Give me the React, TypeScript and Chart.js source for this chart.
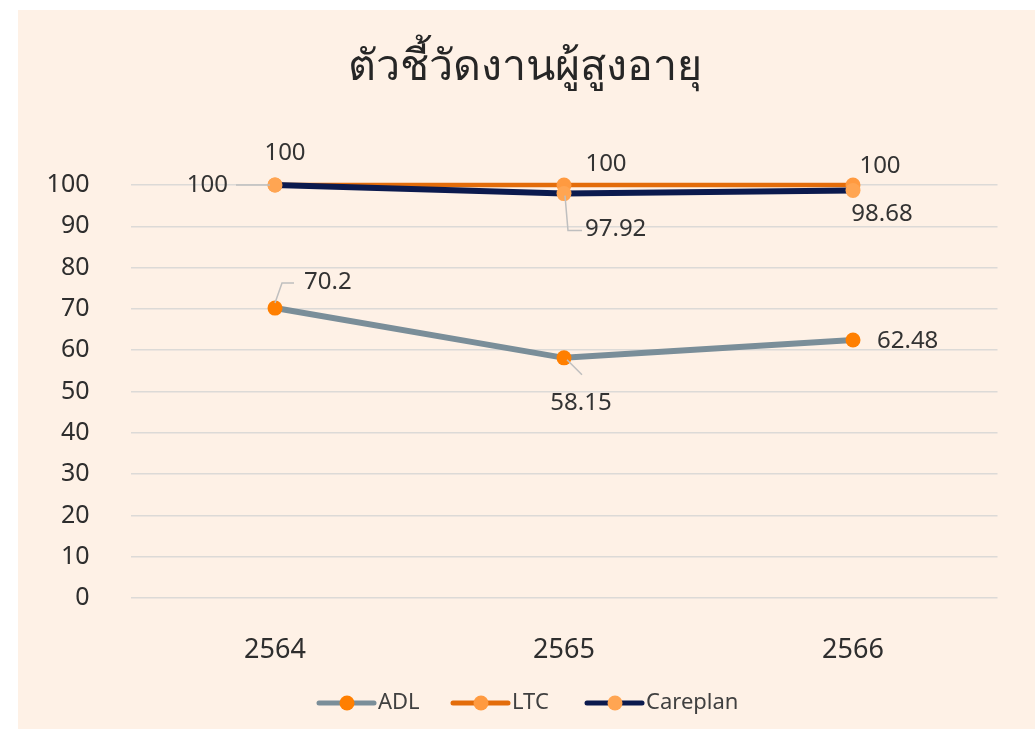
import React, { useEffect, useRef } from "react";
import { Chart, registerables } from "chart.js";

Chart.register(...registerables);

const title = "ตัวชี้วัดงานผู้สูงอายุ";
const categories = ["2564", "2565", "2566"];
const adl = [70.2, 58.15, 62.48];
const ltc = [100, 100, 100];
const careplan = [100, 97.92, 98.68];
const seriesNames = ["ADL", "LTC", "Careplan"];
const yTicks = [0, 10, 20, 30, 40, 50, 60, 70, 80, 90, 100];

const W = 1017;
const H = 719;
const FONT = "'Noto Sans', 'DejaVu Sans', sans-serif";
const TEXT = "#2E2E2E";
const LABEL = "#333333";
const LEADER = "#BFBFBF";

const lineColors = ["#7A8E99", "#E36C0A", "#0B1A4E"];
const markerColors = ["#FF7F00", "#FF9A40", "#FFA552"];

type LabelStyle = { dx: number; dy: number; align: CanvasTextAlign; leader?: number[][] };
// label placement (style), indexed by dataset then point
const labelLayout: LabelStyle[][] = [
  [
    { dx: 29, dy: -26, align: "left", leader: [[0, -5], [7, -25], [19, -25]] },
    { dx: 17, dy: 45, align: "center", leader: [[3, 2], [18, 17]] },
    { dx: 24, dy: 1, align: "left" },
  ],
  [
    { dx: 10, dy: -32, align: "center" },
    { dx: 42, dy: -21, align: "center" },
    { dx: 27, dy: -19, align: "center" },
  ],
  [
    { dx: -47, dy: 0, align: "right", leader: [[-39, 0], [-5, 0]] },
    { dx: 21, dy: 36, align: "left", leader: [[1, 2], [4, 37], [18, 37]] },
    { dx: 29, dy: 24, align: "center" },
  ],
];

const fmt = (v: number) => String(v);

const labelsPlugin = {
  id: "dataLabels",
  afterDatasetsDraw(chart: any) {
    const ctx = chart.ctx;
    ctx.save();
    chart.data.datasets.forEach((ds: any, di: number) => {
      const meta = chart.getDatasetMeta(di);
      meta.data.forEach((pt: any, i: number) => {
        const st = labelLayout[di][i];
        const x = pt.x;
        const y = pt.y;
        if (st.leader) {
          ctx.strokeStyle = LEADER;
          ctx.lineWidth = 1.5;
          ctx.beginPath();
          st.leader.forEach((p, k) => {
            if (k === 0) ctx.moveTo(x + p[0], y + p[1]);
            else ctx.lineTo(x + p[0], y + p[1]);
          });
          ctx.stroke();
        }
        ctx.fillStyle = LABEL;
        ctx.font = `24px ${FONT}`;
        ctx.textAlign = st.align;
        ctx.textBaseline = "middle";
        ctx.fillText(fmt(ds.data[i]), x + st.dx, y + st.dy);
      });
    });
    ctx.restore();
  },
};

const decorPlugin = {
  id: "decor",
  beforeDraw(chart: any) {
    const ctx = chart.ctx;
    ctx.save();
    ctx.fillStyle = "#FEF1E6";
    ctx.fillRect(0, 0, chart.width, chart.height);
    ctx.restore();
  },
  afterDraw(chart: any) {
    const ctx = chart.ctx;
    ctx.save();
    // title
    ctx.fillStyle = "#262626";
    ctx.font = `43px ${FONT}`;
    ctx.textAlign = "center";
    ctx.textBaseline = "middle";
    ctx.fillText(title, 507, 58);
    // legend
    const y = 693;
    const starts = [301, 435, 569];
    ctx.font = `22px ${FONT}`;
    ctx.textAlign = "left";
    seriesNames.forEach((name, i) => {
      const x0 = starts[i];
      ctx.strokeStyle = lineColors[i];
      ctx.lineWidth = 5;
      ctx.lineCap = "round";
      ctx.beginPath();
      ctx.moveTo(x0, y);
      ctx.lineTo(x0 + 55, y);
      ctx.stroke();
      ctx.fillStyle = markerColors[i];
      ctx.beginPath();
      ctx.arc(x0 + 28, y, 7.5, 0, Math.PI * 2);
      ctx.fill();
      ctx.fillStyle = "#404040";
      ctx.fillText(name, x0 + 59, y);
    });
    ctx.restore();
  },
};

export default function App() {
  const ref = useRef<HTMLCanvasElement | null>(null);
  useEffect(() => {
    if (!ref.current) return;
    const mk = (label: string, data: number[], i: number, order: number, bw: number) => ({
      label,
      data,
      borderColor: lineColors[i],
      backgroundColor: markerColors[i],
      pointBackgroundColor: markerColors[i],
      pointBorderColor: markerColors[i],
      pointBorderWidth: 0,
      pointRadius: 7.5,
      borderWidth: bw,
      tension: 0,
      order,
      clip: false as any,
    });
    const chart = new Chart(ref.current, {
      type: "line",
      data: {
        labels: categories,
        datasets: [
          mk(seriesNames[0], adl, 0, 2, 6),
          mk(seriesNames[1], ltc, 1, 1, 4.5),
          mk(seriesNames[2], careplan, 2, 0, 6),
        ],
      },
      plugins: [labelsPlugin, decorPlugin],
      options: {
        responsive: false,
        animation: false,
        events: [],
        layout: { padding: { top: 175, right: 37.5, bottom: 0, left: 0 } },
        plugins: {
          legend: { display: false },
          title: { display: false },
          tooltip: { enabled: false },
        },
        scales: {
          x: {
            offset: true,
            grid: { display: false, drawTicks: false },
            border: { display: false },
            ticks: { color: TEXT, font: { family: FONT, size: 27 }, padding: 36 },
            afterFit: (s: any) => {
              s.height = 131;
            },
          },
          y: {
            min: 0,
            max: 100,
            afterBuildTicks: (s: any) => {
              s.ticks = yTicks.map((v) => ({ value: v }));
            },
            grid: { color: "#DCDAD7", lineWidth: 1.5, drawTicks: false },
            border: { display: false },
            ticks: { color: TEXT, font: { family: FONT, size: 25 }, padding: 41 },
            afterFit: (s: any) => {
              s.width = 112.5;
            },
          },
        },
      },
    });
    return () => chart.destroy();
  }, []);
  return (
    <div style={{ position: "absolute", left: 18, top: 10, width: W, height: H, background: "#FEF1E6" }}>
      <canvas ref={ref} width={W} height={H} style={{ display: "block", width: W, height: H }} />
    </div>
  );
}
